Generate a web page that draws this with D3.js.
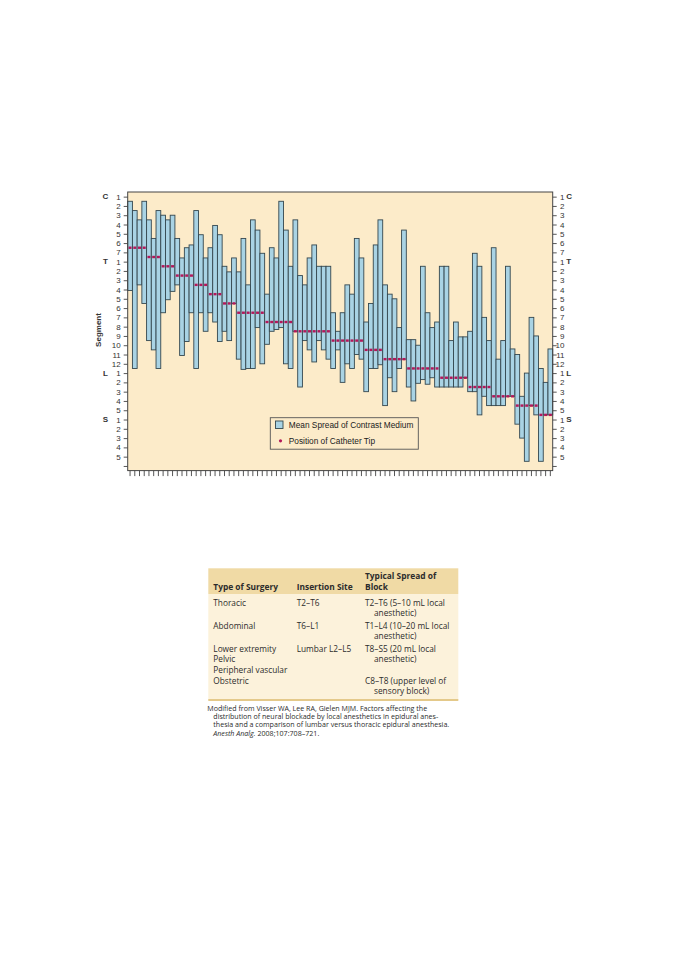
<!DOCTYPE html>
<html><head><meta charset="utf-8">
<script src="https://cdn.jsdelivr.net/npm/d3@7"></script>
<style>body{margin:0;background:#fff} svg{display:block}</style>
</head><body><svg id="c" width="678" height="960"></svg>
<script>
// Segment position: 1 = C1 ... 7 = C7, 8 = T1 ... 19 = T12, 20 = L1 ... 24 = L5, 25 = S1 ... 29 = S5
const spreadTop = [1.5,2.5,3.5,1.5,3.5,5.5,2.5,3.0,3.5,3.0,
 5.5,7.6,6.5,6.2,2.5,5.1,7.6,6.5,4.1,5.1,
 8.5,9.1,7.6,9.1,5.5,10.5,3.5,4.6,7.1,11.5,
 6.5,7.6,1.5,4.6,8.5,3.5,9.5,10.5,7.6,6.2,
 8.5,8.5,8.5,13.5,15.5,13.5,10.5,11.5,5.5,7.6,
 14.5,12.5,6.2,3.5,10.5,11.5,12.0,15.1,4.6,16.4,
 16.4,17.0,8.5,13.5,15.1,14.5,8.5,8.5,16.5,14.5,
 16.1,16.1,15.5,7.1,8.5,14.0,16.5,6.5,18.5,16.5,
 8.5,17.4,18.0,22.5,20.0,14.0,16.0,19.5,21.0,17.4];
const spreadBottom = [11.1,19.5,10.5,12.5,16.5,17.5,19.5,13.5,12.1,11.2,
 10.5,18.1,16.6,13.5,19.5,13.5,15.5,13.5,14.5,16.6,
 15.5,16.5,12.5,18.5,19.6,19.5,19.5,15.1,19.0,16.9,
 15.5,15.3,15.1,19.0,19.5,15.5,21.5,16.5,17.5,18.8,
 16.5,17.5,18.5,19.5,17.5,21.0,19.0,19.5,18.0,18.5,
 22.0,19.5,19.5,19.1,23.5,20.5,22.0,19.5,18.5,21.5,
 23.0,21.1,20.7,21.2,20.5,21.5,21.5,21.5,21.5,21.5,
 21.5,20.5,22.0,22.0,24.5,22.5,23.5,23.5,23.5,23.5,
 22.5,22.5,25.5,27.0,29.5,23.5,24.5,29.5,24.5,24.5];
const catheterTip = [6.5,6.5,6.5,6.5,7.5,7.5,7.5,8.5,8.5,8.5,
 9.5,9.5,9.5,9.5,10.5,10.5,10.5,11.5,11.5,11.5,
 12.5,12.5,12.5,13.5,13.5,13.5,13.5,13.5,13.5,14.5,
 14.5,14.5,14.5,14.5,14.5,15.5,15.5,15.5,15.5,15.5,
 15.5,15.5,15.5,16.5,16.5,16.5,16.5,16.5,16.5,16.5,
 17.5,17.5,17.5,17.5,18.5,18.5,18.5,18.5,18.5,19.5,
 19.5,19.5,19.5,19.5,19.5,19.5,20.5,20.5,20.5,20.5,
 20.5,20.5,21.5,21.5,21.5,21.5,21.5,22.5,22.5,22.5,
 22.5,22.5,23.5,23.5,23.5,23.5,23.5,24.5,24.5,24.5];
const regionLetters = ["C","T","L","S"];
const regionCounts = [7,12,5,5];
const legendLabels = ["Mean Spread of Contrast Medium","Position of Catheter Tip"];
const axisTitle = "Segment";

const tableHeaders = [["Type of Surgery"],["Insertion Site"],["Typical Spread of","Block"]];
const surgeryTypes = [["Thoracic"],["Abdominal"],["Lower extremity","Pelvic","Peripheral vascular"],["Obstetric"]];
const insertionSites = [["T2–T6"],["T6–L1"],["Lumbar L2–L5"],[]];
const blockSpreads = [["T2–T6 (5–10 mL local","anesthetic)"],["T1–L4 (10–20 mL local","anesthetic)"],["T8–S5 (20 mL local","anesthetic)"],["C8–T8 (upper level of","sensory block)"]];
const citation = ["Modified from Visser WA, Lee RA, Gielen MJM. Factors affecting the",
 "distribution of neural blockade by local anesthetics in epidural anes-",
 "thesia and a comparison of lumbar versus thoracic epidural anesthesia."];
const citationJournal = ["Anesth Analg.", " 2008;107:708–721."];

const svg = d3.select("#c");
svg.append("rect").attr("width",678).attr("height",960).attr("fill","#fff");
const P = {left:127.7, right:552.7, top:192, bottom:470.6};
const fAx = '"Liberation Sans", Arial, Helvetica, sans-serif';
const fTb = '"Open Sans", "Noto Sans", sans-serif';

const x = d3.scaleBand().domain(d3.range(1, spreadTop.length + 1)).range([P.left, P.right]);
const y = d3.scaleLinear().domain([0.5, 30.5]).range([P.top, P.bottom]);

const segLabels = [], regionStart = [];
let k = 1;
regionLetters.forEach((r,i) => { regionStart.push(k); for (let j = 1; j <= regionCounts[i]; j++) { segLabels.push(String(j)); k++; } });

svg.append("rect").attr("x",P.left).attr("y",P.top).attr("width",P.right-P.left).attr("height",P.bottom-P.top).attr("fill","#fcebc9");

const g = svg.append("g");
g.selectAll("rect.bar").data(spreadTop).join("rect").attr("class","bar")
  .attr("x",(d,i)=>x(i+1)).attr("width",x.bandwidth())
  .attr("y",d=>y(d)).attr("height",(d,i)=>y(spreadBottom[i])-y(d))
  .attr("fill","#a9d3e4").attr("stroke","#34474f").attr("stroke-width",0.9);
g.selectAll("rect.cath").data(catheterTip).join("rect").attr("class","cath")
  .attr("x",(d,i)=>x(i+1)+x.bandwidth()/2-1.5).attr("width",3)
  .attr("y",d=>y(d)-1.2).attr("height",2.4).attr("fill","#b3185a");

const ticks = d3.range(1, 31);
const la = svg.append("g").attr("transform",`translate(${P.left},0)`)
  .call(d3.axisLeft(y).tickValues(ticks).tickSize(4).tickPadding(3).tickFormat(v=>segLabels[v-1]||""));
const ra = svg.append("g").attr("transform",`translate(${P.right},0)`)
  .call(d3.axisRight(y).tickValues(ticks).tickSize(4).tickFormat(v=>segLabels[v-1]||""));
ra.selectAll("text").attr("text-anchor","end").attr("x",11.8);
const ba = svg.append("g").attr("transform",`translate(0,${P.bottom})`)
  .call(d3.axisBottom(x).tickSize(5.5).tickFormat(""));
[la,ra,ba].forEach(a=>{
  a.select(".domain").remove();
  a.selectAll("line").attr("stroke","#444").attr("stroke-width",0.9);
  a.selectAll("text").attr("font-family",fAx).attr("font-size",8).attr("fill","#333");
});

svg.append("rect").attr("x",P.left).attr("y",P.top).attr("width",P.right-P.left).attr("height",P.bottom-P.top)
  .attr("fill","none").attr("stroke","#444").attr("stroke-width",1);

regionLetters.forEach((r,i)=>{
  svg.append("text").attr("x",105.5).attr("y",y(regionStart[i])).attr("dy","0.35em").attr("text-anchor","middle")
    .attr("font-family",fAx).attr("font-size",8).attr("font-weight","bold").attr("fill","#333").text(r);
  svg.append("text").attr("x",566.3).attr("y",y(regionStart[i])).attr("dy","0.35em")
    .attr("font-family",fAx).attr("font-size",8).attr("font-weight","bold").attr("fill","#333").text(r);
});
svg.append("text").attr("transform","translate(100.5,330) rotate(-90)").attr("text-anchor","middle")
  .attr("font-family",fAx).attr("font-size",8).attr("font-weight","bold").attr("fill","#333").text(axisTitle);

// legend
const lg = svg.append("g");
lg.append("rect").attr("x",270.3).attr("y",417.7).attr("width",148).attr("height",31.5)
  .attr("fill","#fcebc9").attr("stroke","#555").attr("stroke-width",0.9);
lg.append("rect").attr("x",275.5).attr("y",421).attr("width",7.5).attr("height",7.5)
  .attr("fill","#a9d3e4").attr("stroke","#34474f").attr("stroke-width",0.9);
lg.append("circle").attr("cx",280.5).attr("cy",440.8).attr("r",1.6).attr("fill","#b3185a");
legendLabels.forEach((t,i)=>{
  lg.append("text").attr("x",288.8).attr("y",[428.2,443.6][i]).attr("font-family",fAx).attr("font-size",8.3)
    .attr("fill","#222").text(t);
});

// table
const T = {left:208.3, right:458.3, top:568.3, head:594, bottom:700};
const cols = [213.3, 296.7, 365];
svg.append("rect").attr("x",T.left).attr("y",T.top).attr("width",T.right-T.left).attr("height",T.head-T.top).attr("fill","#f0daa5");
svg.append("rect").attr("x",T.left).attr("y",T.head).attr("width",T.right-T.left).attr("height",T.bottom-T.head).attr("fill","#fcf2db");
svg.append("rect").attr("x",T.left).attr("y",T.bottom-1).attr("width",T.right-T.left).attr("height",2).attr("fill","#e4c98a");
tableHeaders.forEach((h,ci)=>{
  const base = 589.5 - (h.length-1)*10.5;
  h.forEach((t,li)=>svg.append("text").attr("x",cols[ci]).attr("y",base+li*10.5).attr("font-family",fTb)
    .attr("font-size",8.4).attr("font-weight","bold").attr("fill","#2c2c2c").text(t));
});
const rowBase = [606, 629, 652, 684];
const lh = 10.3;
[surgeryTypes, insertionSites, blockSpreads].forEach((colData,ci)=>{
  colData.forEach((lines,ri)=>{
    lines.forEach((t,li)=>{
      svg.append("text").attr("x",cols[ci] + (ci===2 && li>0 ? 9 : 0)).attr("y",rowBase[ri]+li*lh)
        .attr("font-family",fTb).attr("font-size",8.3).attr("fill","#2c2c2c").text(t);
    });
  });
});
citation.forEach((t,i)=>{
  svg.append("text").attr("x", i===0 ? 207.3 : 213.3).attr("y",710.8+i*8.3)
    .attr("font-family",fTb).attr("font-size",7.1).attr("fill","#2c2c2c").text(t);
});
const ct = svg.append("text").attr("x",213.3).attr("y",710.8+3*8.3).attr("font-family",fTb).attr("font-size",7.1).attr("fill","#2c2c2c");
ct.append("tspan").attr("font-style","italic").text(citationJournal[0]);
ct.append("tspan").text(citationJournal[1]);
</script></body></html>
